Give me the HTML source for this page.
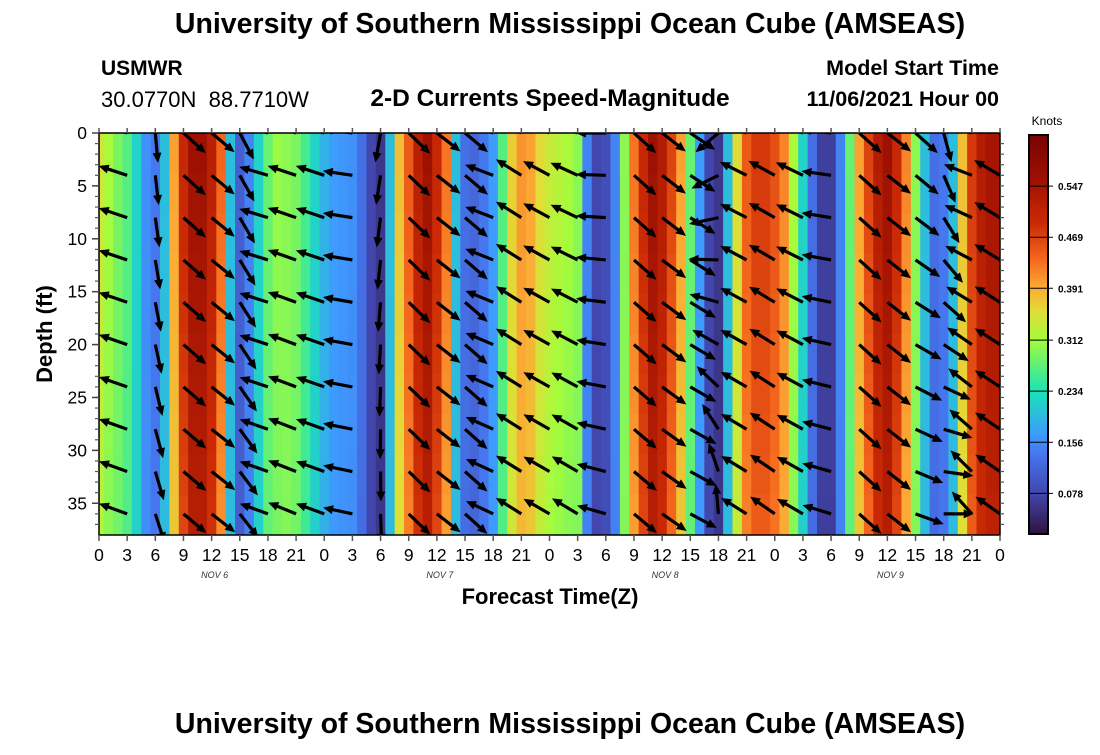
<!DOCTYPE html>
<html><head><meta charset="utf-8">
<style>
body{margin:0;background:#fff;width:1100px;height:750px;overflow:hidden;font-family:"Liberation Sans",Arial,sans-serif;}
svg text{font-family:"Liberation Sans",Arial,sans-serif;}
</style></head>
<body>
<svg id="chart" width="1100" height="750" xmlns="http://www.w3.org/2000/svg">
<text x="570" y="33" text-anchor="middle" font-size="28.5" font-weight="bold">University of Southern Mississippi Ocean Cube (AMSEAS)</text>
<text x="101" y="75" font-size="21" font-weight="bold">USMWR</text>
<text x="101" y="107" font-size="22" xml:space="preserve">30.0770N  88.7710W</text>
<text x="550" y="106" text-anchor="middle" font-size="24.5" font-weight="bold">2-D Currents Speed-Magnitude</text>
<text x="999" y="75" text-anchor="end" font-size="21.5" font-weight="bold">Model Start Time</text>
<text x="999" y="106" text-anchor="end" font-size="21.5" font-weight="bold">11/06/2021 Hour 00</text>
<text x="550" y="604" text-anchor="middle" font-size="22" font-weight="bold">Forecast Time(Z)</text>
<text transform="translate(52,334) rotate(-90)" text-anchor="middle" font-size="22" font-weight="bold">Depth (ft)</text>
<text x="1047" y="125" text-anchor="middle" font-size="12">Knots</text>
<text x="570" y="733" text-anchor="middle" font-size="28.5" font-weight="bold">University of Southern Mississippi Ocean Cube (AMSEAS)</text>
<defs><clipPath id="plotclip"><rect x="99" y="133" width="901" height="402"/></clipPath></defs>
<g id="heat" clip-path="url(#plotclip)"></g>
<g id="arrows" clip-path="url(#plotclip)"></g>
<g id="axes"></g>
<g id="cbar"></g>
</svg>
<script>
// hourly speed (knots), hours 0..96
const hours = [0,1,2,3,4,5,6,7,8,9,10,11,12,13,14,15,16,17,18,19,20,21,22,23,24,25,26,27,28,29,30,31,32,33,34,35,36,37,38,39,40,41,42,43,44,45,46,47,48,49,50,51,52,53,54,55,56,57,58,59,60,61,62,63,64,65,66,67,68,69,70,71,72,73,74,75,76,77,78,79,80,81,82,83,84,85,86,87,88,89,90,91,92,93,94,95,96];
const speeds = [0.35,0.32,0.29,0.27,0.22,0.16,0.14,0.2,0.4,0.5,0.56,0.56,0.52,0.44,0.2,0.11,0.15,0.22,0.28,0.31,0.3,0.29,0.26,0.22,0.19,0.17,0.165,0.16,0.13,0.08,0.06,0.2,0.38,0.45,0.52,0.56,0.5,0.43,0.2,0.13,0.12,0.14,0.17,0.27,0.37,0.41,0.4,0.36,0.34,0.33,0.32,0.3,0.15,0.08,0.09,0.15,0.3,0.43,0.5,0.56,0.53,0.47,0.4,0.28,0.17,0.08,0.06,0.2,0.36,0.45,0.48,0.48,0.46,0.42,0.32,0.22,0.13,0.07,0.07,0.15,0.28,0.4,0.47,0.53,0.56,0.5,0.42,0.3,0.2,0.13,0.14,0.2,0.38,0.48,0.53,0.55,0.55];
// vector columns every 3 h; screen angles (deg) at top and bottom rows
const vecHours = [0,3,6,9,12,15,18,21,24,27,30,33,36,39,42,45,48,51,54,57,60,63,66,69,72,75,78,81,84,87,90,93,96];
const angTop = [198,198,85,42,40,62,196,198,198,188,100,44,38,40,200,212,208,204,180,42,38,34,140,206,208,205,187,42,38,42,75,198,210];
const angBot = [200,200,72,40,38,52,200,202,200,192,88,44,38,42,205,212,210,211,196,40,35,28,265,212,215,210,197,42,38,20,0,228,215];
const vecDepths = [0,4,8,12,16,20,24,28,32,36];
const depthTicks = [0,5,10,15,20,25,30,35];
const xTickLabels = ["0","3","6","9","12","15","18","21","0","3","6","9","12","15","18","21","0","3","6","9","12","15","18","21","0","3","6","9","12","15","18","21","0"];
const dayLabels = ["NOV  6","NOV  7","NOV  8","NOV  9"];
const dayHours = [12,36,60,84];
const cbTicks = [0.078,0.156,0.234,0.312,0.391,0.469,0.547];

const NS="http://www.w3.org/2000/svg";
const X0=99,X1=1000,Y0=133,Y1=535,VMIN=0.016,VMAX=0.625,DMAX=38;
const xs=h=>X0+(h/96)*(X1-X0);
const ys=d=>Y0+(d/DMAX)*(Y1-Y0);
const stops=[[0,[48,18,59]],[0.1,[65,69,171]],[0.2,[70,117,237]],[0.25,[62,155,254]],[0.36,[26,228,182]],[0.49,[164,252,60]],[0.56,[225,221,55]],[0.62,[252,169,53]],[0.69,[245,104,30]],[0.78,[203,42,4]],[0.9,[154,15,2]],[1,[122,4,3]]];
function cmap(v){let t=Math.max(0,Math.min(1,(v-VMIN)/(VMAX-VMIN)));for(let i=1;i<stops.length;i++){if(t<=stops[i][0]){const a=stops[i-1],b=stops[i];const f=(t-a[0])/(b[0]-a[0]);const c=a[1].map((x,k)=>Math.round(x+(b[1][k]-x)*f));return `rgb(${c})`;}}return 'rgb(122,4,3)';}
function mk(tag,attrs,parent){const e=document.createElementNS(NS,tag);for(const k in attrs)e.setAttribute(k,attrs[k]);parent.appendChild(e);return e;}

const heat=document.getElementById('heat');
const nRows=10, cw=(X1-X0)/96;
hours.forEach((h,i)=>{for(let r=0;r<nRows;r++){const d0=r*DMAX/nRows;const fac=1-0.07*((r+0.5)/nRows)*((speeds[i]>0.3)?1:0.2);
 const el=mk('rect',{x:(xs(h)-cw/2).toFixed(2),y:ys(d0).toFixed(2),width:(cw+0.6).toFixed(2),height:((Y1-Y0)/nRows+0.6).toFixed(2),fill:cmap(speeds[i]*fac)},heat);
 
 }});

const arr=document.getElementById('arrows');
vecHours.forEach((h,i)=>{vecDepths.forEach((d,j)=>{const f=j/(vecDepths.length-1);const a=(angTop[i]+(angBot[i]-angTop[i])*f)*Math.PI/180;
 const L=30,x0=xs(h),y0=ys(d),x1=x0+L*Math.cos(a),y1=y0+L*Math.sin(a);
 const g=mk('g',{},arr);
 
 
 mk('line',{x1:x0,y1:y0,x2:x1-6*Math.cos(a),y2:y1-6*Math.sin(a),stroke:'#000','stroke-width':3.2},g);
 const px=-Math.sin(a),py=Math.cos(a),bx=x1-10*Math.cos(a),by=y1-10*Math.sin(a);
 mk('polygon',{points:`${x1},${y1} ${bx+4.5*px},${by+4.5*py} ${bx-4.5*px},${by-4.5*py}`,fill:'#000'},g);});});

const ax=document.getElementById('axes');
const fr=mk('rect',{x:X0,y:Y0,width:X1-X0,height:Y1-Y0,fill:'none',stroke:'#000','stroke-width':1.5},ax);

xTickLabels.forEach((lab,i)=>{const x=xs(i*3);
 mk('line',{x1:x,y1:Y1,x2:x,y2:Y1+6,stroke:'#555','stroke-width':1.5},ax);
 mk('line',{x1:x,y1:Y0,x2:x,y2:Y0-5,stroke:'#555','stroke-width':1.5},ax);
 const t=mk('text',{x:x,y:Y1+26,'text-anchor':'middle','font-size':17.5},ax);t.textContent=lab;
 });
dayLabels.forEach((lab,i)=>{const t=mk('text',{x:xs(dayHours[i])+3,y:578,'text-anchor':'middle','font-size':9,'font-style':'italic','font-family':'Liberation Serif,serif',fill:'#333'},ax);t.textContent=lab;
 });
for(let d=1;d<DMAX;d++){const y=ys(d);mk('line',{x1:X0-4,y1:y,x2:X0,y2:y,stroke:'#555','stroke-width':1.2},ax);mk('line',{x1:X1,y1:y,x2:X1+4,y2:y,stroke:'#555','stroke-width':1.2},ax);}
depthTicks.forEach(d=>{const y=ys(d);mk('line',{x1:X0-7,y1:y,x2:X0,y2:y,stroke:'#444','stroke-width':1.5},ax);
 const t=mk('text',{x:X0-12,y:y+6,'text-anchor':'end','font-size':17.5},ax);t.textContent=String(d);
 });

const cb=document.getElementById('cbar');
const CX=1029,CW=19,CB0=135,CB1=534;
const cy=v=>CB1-(v-VMIN)/(VMAX-VMIN)*(CB1-CB0);
for(let k=0;k<200;k++){const v=VMIN+(VMAX-VMIN)*k/200;const y=cy(v+(VMAX-VMIN)/200);mk('rect',{x:CX,y:y,width:CW,height:(CB1-CB0)/200+0.6,fill:cmap(v+(VMAX-VMIN)/400)},cb);}
const cf=mk('rect',{x:CX,y:CB0,width:CW,height:CB1-CB0,fill:'none',stroke:'#000','stroke-width':2},cb);

cbTicks.forEach(v=>{const y=cy(v);mk('line',{x1:CX,y1:y,x2:CX+CW+5,y2:y,stroke:'#000','stroke-width':1},cb);
 const t=mk('text',{x:CX+CW+10,y:y+4,'font-size':10,'font-weight':'bold'},cb);t.textContent=v.toFixed(3);
 });
</script>
</body></html>
